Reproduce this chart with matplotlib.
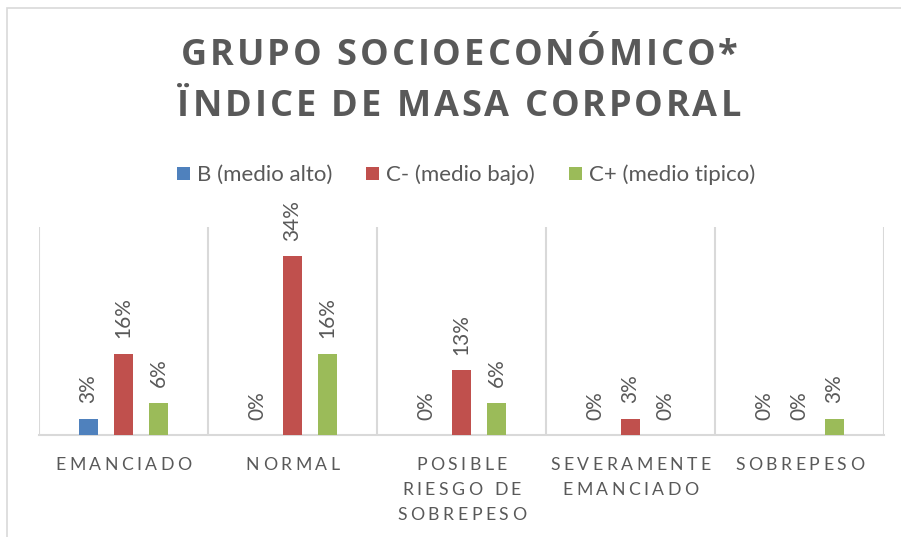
import numpy as np
import matplotlib
matplotlib.use('Agg')
import matplotlib.pyplot as plt
from matplotlib.patches import Rectangle, Patch

plt.rcParams['font.family'] = ['Lato', 'DejaVu Sans']

categories = ['EMANCIADO', 'NORMAL', 'POSIBLE\nRIESGO DE\nSOBREPESO',
              'SEVERAMENTE\nEMANCIADO', 'SOBREPESO']
series = ['B (medio alto)', 'C- (medio bajo)', 'C+ (medio tipico)']
# porcentajes (n / 32)
b_alto = [3.125, 0.0, 0.0, 0.0, 0.0]
c_menos = [15.625, 34.375, 12.5, 3.125, 0.0]
c_mas = [6.25, 15.625, 6.25, 0.0, 3.125]
title_lines = ['GRUPO SOCIOECONÓMICO*', 'ÏNDICE DE MASA CORPORAL']

colors = ['#4f81bd', '#c0504d', '#9bbb59']
GRAY = '#595959'
GRID = '#d9d9d9'
W, H = 901, 537

fig = plt.figure(figsize=(W / 100, H / 100), dpi=100)
renderer = fig.canvas.get_renderer()


def text_width(s, **kw):
    t = fig.text(0, 0, s, **kw)
    w = t.get_window_extent(renderer).width
    t.remove()
    return w


def tracked_text(xc, yc, s, track, **kw):
    # texto con espaciado entre letras, (xc, yc) en pixeles desde arriba-izquierda
    ref = text_width('I', **kw)
    advs = [text_width(s[:i] + 'I', **kw) - ref if i else 0 for i in range(len(s))]
    total = text_width(s, **kw) + track * (len(s) - 1)
    x0 = xc - total / 2
    for i, ch in enumerate(s):
        if ch == ' ':
            continue
        fig.text((x0 + advs[i] + track * i) / W, 1 - yc / H, ch,
                 ha='left', va='center', **kw)


fig.patches.append(Rectangle((7 / W, -0.1), 1.2, 1 - 7.5 / H + 0.1,
                             transform=fig.transFigure, fill=False,
                             edgecolor=GRID, linewidth=1.2))

ax = fig.add_axes([39 / W, 1 - 435 / H, (884 - 39) / W, (435 - 227) / H])

x = np.arange(len(categories))
offs = [-0.207, 0.0, 0.207]
width = 0.112
for vals, off, col, name in zip([b_alto, c_menos, c_mas], offs, colors, series):
    ax.bar(x + off, vals, width=width, color=col, label=name, zorder=3)
    for xi, v in zip(x + off, vals):
        ax.annotate(f'{int(v + 0.5)}%', (xi, v), xytext=(0, 11), textcoords='offset points',
                    rotation=90, ha='center', va='bottom', fontsize=15, color=GRAY)

ax.set_xlim(-0.5, len(categories) - 0.5)
ax.set_ylim(0, 40)
ax.set_yticks([])
ax.set_xticks([])
ax.set_xticks(np.arange(-0.5, len(categories), 1), minor=True)
ax.tick_params(axis='x', which='minor', length=0, labelbottom=False)
ax.grid(axis='x', which='minor', color=GRID, linewidth=1.5, zorder=0)
for s in ['top', 'right', 'left']:
    ax.spines[s].set_visible(False)
ax.spines['bottom'].set_color(GRID)
ax.spines['bottom'].set_linewidth(1.5)

# etiquetas de categoria
for i, cat in enumerate(categories):
    px = ax.transData.transform((i, 0))[0]
    for j, line in enumerate(cat.split('\n')):
        tracked_text(px, 465 + 25 * j, line, 3.5, fontsize=12.7, color=GRAY)

# titulo
for j, line in enumerate(title_lines):
    tracked_text(459, 56 + 51 * j, line, 3.0, fontsize=26,
                 fontweight='bold', color=GRAY, family=['Open Sans', 'DejaVu Sans'])

handles = [Patch(facecolor=c, label=l) for c, l in zip(colors, series)]
fig.legend(handles=handles, loc='center', bbox_to_anchor=(466 / W, 1 - 175 / H), ncol=3,
           frameon=False, fontsize=16, labelcolor=GRAY, handlelength=0.58,
           handleheight=0.58, handletextpad=0.3, columnspacing=1.55)

fig.savefig('out.png', dpi=100)
